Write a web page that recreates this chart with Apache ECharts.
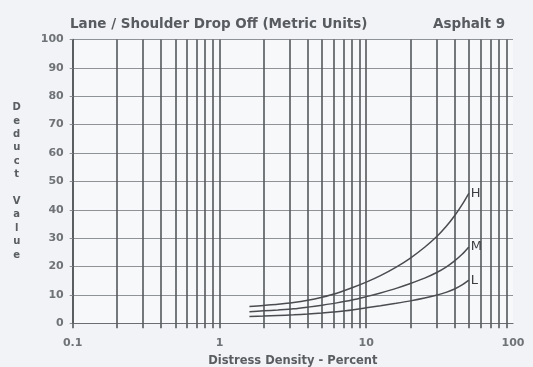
<!DOCTYPE html>
<html>
<head>
<meta charset="utf-8">
<script src="https://cdn.jsdelivr.net/npm/echarts@6/dist/echarts.min.js"></script>
<style>
  html, body { margin: 0; padding: 0; background: #f1f3f6; }
  #chart { width: 533px; height: 367px; }
</style>
</head>
<body>
<div id="chart"></div>
<script>
// Deduct value curves for lane / shoulder drop off, by severity level
const density      = [1.6, 2, 2.5, 3.2, 4, 5, 6.3, 8, 10, 12.5, 16, 20, 25, 30, 35, 40, 45, 50];
const highValues   = [5.9, 6.3, 6.7, 7.3, 8.1, 9.2, 10.6, 12.5, 14.5, 16.8, 19.8, 23.0, 26.8, 30.4, 34.1, 37.9, 41.8, 45.8];
const mediumValues = [4.1, 4.4, 4.7, 5.1, 5.7, 6.4, 7.2, 8.2, 9.4, 10.7, 12.3, 14.0, 15.9, 17.8, 19.8, 22.0, 24.3, 26.9];
const lowValues    = [2.4, 2.55, 2.75, 3.0, 3.3, 3.65, 4.1, 4.7, 5.5, 6.2, 7.05, 7.9, 8.9, 9.9, 10.9, 12.1, 13.5, 15.2];

// Log-cycle paper: a rule at every 1..9 step of each decade
const xRules = [0.1, 0.2, 0.3, 0.4, 0.5, 0.6, 0.7, 0.8, 0.9,
                1, 2, 3, 4, 5, 6, 7, 8, 9,
                10, 20, 30, 40, 50, 60, 70, 80, 90];
const xLabels = [0.1, 1, 10, 100];

const FONT = 'DejaVu Sans';

function pairs(xs, ys) { return xs.map((x, i) => [x, ys[i]]); }

function curve(name, values) {
  return {
    name: name,
    type: 'line',
    data: pairs(density, values),
    smooth: 0.3,
    showSymbol: false,
    symbol: 'none',
    lineStyle: { color: '#4a4c50', width: 1.5 },
    endLabel: {
      show: true,
      formatter: name,
      color: '#3c3e42',
      fontFamily: FONT,
      fontSize: 13,
      distance: 2
    },
    z: 5
  };
}

const chart = echarts.init(document.getElementById('chart'), null, { renderer: 'canvas' });
chart.setOption({
  backgroundColor: '#f1f3f6',
  animation: false,
  title: [
    {
      text: 'Lane / Shoulder Drop Off (Metric Units)',
      left: 65, top: 12,
      textStyle: { fontFamily: FONT, fontSize: 13.5, fontWeight: 'bold', color: '#585b5f' }
    },
    {
      text: 'Asphalt 9',
      left: 428, top: 12,
      textStyle: { fontFamily: FONT, fontSize: 13.5, fontWeight: 'bold', color: '#585b5f' }
    }
  ],
  grid: {
    left: 72.7, right: 20, top: 39.5, bottom: 43.7,
    outerBoundsMode: 'none',
    show: true, backgroundColor: '#f6f8fa', borderWidth: 0
  },
  xAxis: {
    type: 'log',
    logBase: 10,
    min: 0.1,
    max: 100,
    name: 'Distress Density - Percent',
    nameLocation: 'middle',
    nameGap: 32,
    nameTextStyle: { fontFamily: FONT, fontSize: 11.5, fontWeight: 'bold', color: '#5a5d61' },
    axisLine: { show: true, lineStyle: { color: '#6a6d71', width: 1.2 } },
    axisTick: { show: true, inside: false, length: 5, customValues: xRules,
                lineStyle: { color: '#55585c', width: 1.6 } },
    axisLabel: {
      customValues: xLabels,
      margin: 14,
      fontFamily: FONT, fontSize: 11, fontWeight: 'bold', color: '#6f7276',
      formatter: v => String(v)
    },
    splitLine: { show: true, lineStyle: { color: '#55585c', width: 1.6 } }
  },
  yAxis: {
    type: 'value',
    min: 0,
    max: 100,
    interval: 10,
    name: 'D\ne\nd\nu\nc\nt\n\nV\na\nl\nu\ne',
    nameLocation: 'middle',
    nameRotate: 0,
    nameGap: 56,
    nameTextStyle: { fontFamily: FONT, fontSize: 10, fontWeight: 'bold', color: '#5a5d61',
                     lineHeight: 13.4, align: 'center' },
    axisLine: { show: true, lineStyle: { color: '#55585c', width: 1.6 } },
    axisTick: { show: true, length: 3, lineStyle: { color: '#8c8f93', width: 1 } },
    axisLabel: { margin: 9, fontFamily: FONT, fontSize: 11, fontWeight: 'bold', color: '#6f7276' },
    splitLine: { show: true, lineStyle: { color: '#8f9296', width: 1 } }
  },
  series: [
    curve('H', highValues),
    curve('M', mediumValues),
    curve('L', lowValues)
  ]
});
</script>
</body>
</html>
